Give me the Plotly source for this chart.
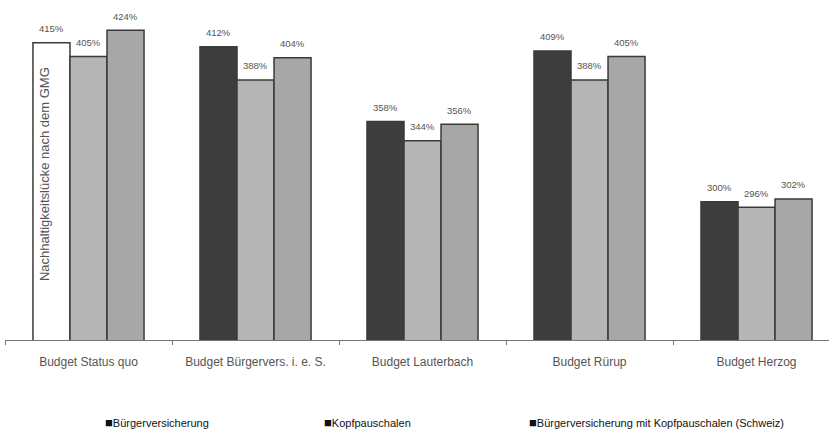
import plotly.graph_objects as go

categories = ["Budget Status quo", "Budget Bürgervers. i. e. S.", "Budget Lauterbach", "Budget Rürup", "Budget Herzog"]
series_names = ["Bürgerversicherung", "Kopfpauschalen", "Bürgerversicherung mit Kopfpauschalen (Schweiz)"]
buergerversicherung = [415, 412, 358, 409, 300]
kopfpauschalen = [405, 388, 344, 388, 296]
schweiz = [424, 404, 356, 405, 302]
status_quo_note = "Nachhaltigkeitslücke nach dem GMG"

FONT = "Liberation Sans, Arial, sans-serif"
dark, light, mid = "#3d3d3d", "#b5b5b5", "#a7a7a7"
edge = "#3a3a3a"

first_colors = ["#ffffff"] + [dark] * (len(categories) - 1)

gap = 0.335
bar_w = (1 - gap) / 3

fig = go.Figure()
series = [
    (series_names[0], buergerversicherung, first_colors),
    (series_names[1], kopfpauschalen, [light] * len(categories)),
    (series_names[2], schweiz, [mid] * len(categories)),
]
for k, (name, vals, colors) in enumerate(series):
    fig.add_trace(go.Bar(
        x=categories, y=vals, name=name,
        marker=dict(color=colors, line=dict(color=edge, width=1.5)),
        showlegend=False,
    ))
    for i, v in enumerate(vals):
        fig.add_annotation(
            x=i + (k - 1) * bar_w, y=v, xref="x", yref="y",
            text=f"{v}%", showarrow=False, yanchor="middle", yshift=14,
            font=dict(family=FONT, size=9.5, color="#555555"),
        )

fig.add_annotation(
    x=0 - bar_w, y=buergerversicherung[0], xref="x", yref="y",
    text=status_quo_note, textangle=-90, showarrow=False,
    xanchor="center", yanchor="top", yshift=-22, xshift=-7,
    font=dict(family=FONT, size=13, color="#555555"),
)

legend_x = [0.1189, 0.3847, 0.6335]
for nm, lx in zip(series_names, legend_x):
    fig.add_annotation(
        x=lx, y=-0.25, xref="paper", yref="paper", xanchor="left", yanchor="middle",
        text="<span style='font-size:13px'>■</span>" + nm, showarrow=False,
        font=dict(family=FONT, size=11, color="#111111"),
    )

fig.update_layout(
    width=829, height=435,
    margin=dict(l=5, r=0, t=10, b=95),
    paper_bgcolor="white", plot_bgcolor="white",
    barmode="group", bargap=gap, bargroupgap=0,
    xaxis=dict(
        type="category", range=[-0.5, 4.434],
        showline=True, linecolor="#777777", linewidth=1,
        ticks="outside", tickson="boundaries", ticklen=4, tickcolor="#777777",
        tickfont=dict(family=FONT, size=12, color="#555555"),
        ticklabelstandoff=11, showgrid=False,
    ),
    yaxis=dict(range=[200, 438.6], visible=False, showgrid=False),
)

fig.write_html("out.html", config={"displayModeBar": False},
               post_script="document.body.style.margin='0';")
